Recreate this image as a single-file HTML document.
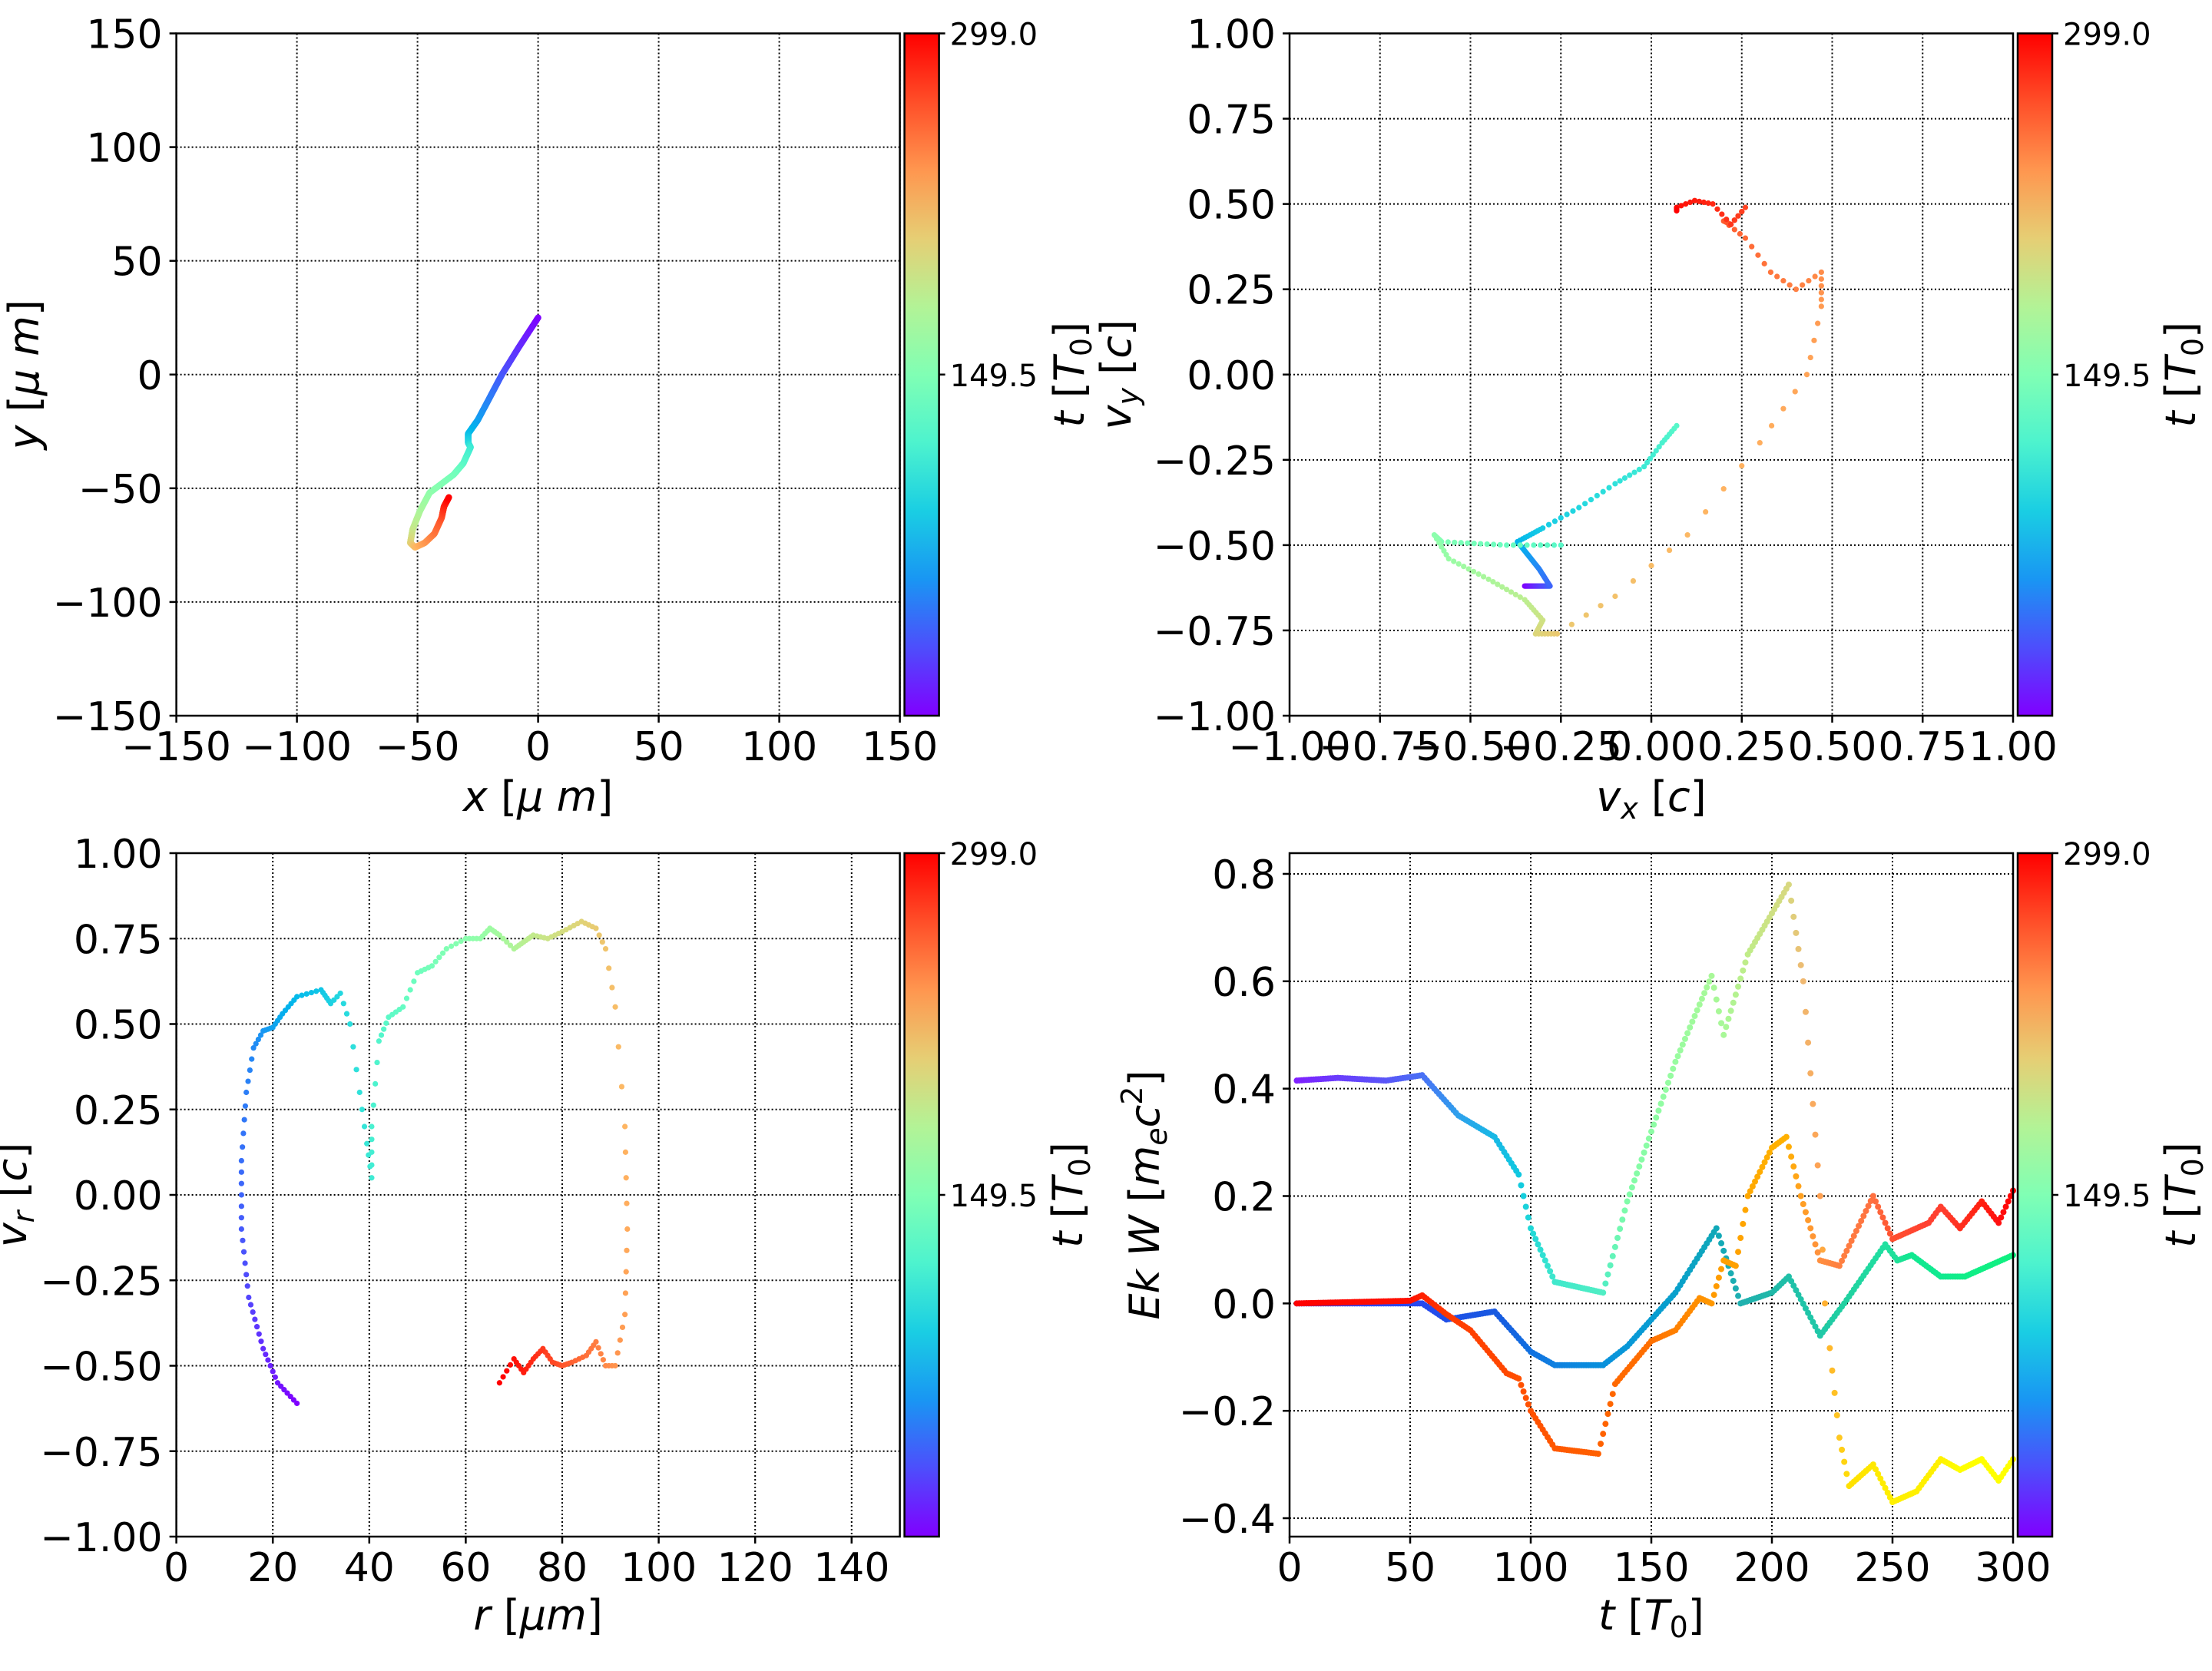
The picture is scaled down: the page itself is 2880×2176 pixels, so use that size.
<!DOCTYPE html>
<html><head><meta charset="utf-8">
<style>
html,body{margin:0;padding:0;background:#fff;}
svg{display:block;}
text{font-family:"DejaVu Sans","Liberation Sans",sans-serif;fill:#000;}
</style></head>
<body>
<svg id="s" xmlns="http://www.w3.org/2000/svg" width="2880" height="2176" viewBox="0 0 2880 2176">
<defs>
<linearGradient id="cmg" x1="0" y1="1" x2="0" y2="0">
<stop offset="0" stop-color="#8000ff"/><stop offset="0.1" stop-color="#4d4efc"/><stop offset="0.2" stop-color="#1996f3"/><stop offset="0.3" stop-color="#1acee3"/><stop offset="0.4" stop-color="#4df3ce"/><stop offset="0.5" stop-color="#80ffb4"/><stop offset="0.6" stop-color="#b3f396"/><stop offset="0.7" stop-color="#e6ce74"/><stop offset="0.8" stop-color="#ff964f"/><stop offset="0.9" stop-color="#ff4e28"/><stop offset="1" stop-color="#ff0000"/>
</linearGradient>
</defs>
<g id="g"></g>
</svg>
<script>
const NS="http://www.w3.org/2000/svg";
const G=document.getElementById('g');
function el(t,a,txt){const e=document.createElementNS(NS,t);for(const k in a)e.setAttribute(k,a[k]);if(txt!==undefined)e.innerHTML=txt;G.appendChild(e);return e;}
function cm(v){const r=Math.min(1,Math.abs(2*v-0.5)),g=Math.sin(Math.PI*v),b=Math.cos(Math.PI*v/2);return `rgb(${Math.round(r*255)},${Math.round(g*255)},${Math.round(b*255)})`;}
function mn(s){return s.replace('-','\u2212');}
function axes(o){
 const [X0,X1]=o.px,[Y0,Y1]=o.py,[a,b]=o.xl,[c,d]=o.yl;
 o.fx=x=>X0+(x-a)/(b-a)*(X1-X0); o.fy=y=>Y1-(y-c)/(d-c)*(Y1-Y0);
 for(const t of o.xt){const x=o.fx(t);el('line',{x1:x,y1:Y0,x2:x,y2:Y1,stroke:'#000','stroke-width':2,'stroke-dasharray':'2,3'});}
 for(const t of o.yt){const y=o.fy(t);el('line',{x1:X0,y1:y,x2:X1,y2:y,stroke:'#000','stroke-width':2,'stroke-dasharray':'2,3'});}
 return o;
}
function frame(o){
 const [X0,X1]=o.px,[Y0,Y1]=o.py;
 el('rect',{x:X0,y:Y0,width:X1-X0,height:Y1-Y0,fill:'none',stroke:'#000','stroke-width':2.5});
 for(const t of o.xt){const x=o.fx(t);el('line',{x1:x,y1:Y1,x2:x,y2:Y1+9,stroke:'#000','stroke-width':2.5});
  el('text',{x:x,y:Y1+58,'font-size':52,'text-anchor':'middle'},mn(o.xf(t)));}
 for(const t of o.yt){const y=o.fy(t);el('line',{x1:X0-9,y1:y,x2:X0,y2:y,stroke:'#000','stroke-width':2.5});
  el('text',{x:X0-18,y:y+19,'font-size':52,'text-anchor':'end'},mn(o.yf(t)));}
 const cx=X1+6,cw=45;
 el('rect',{x:cx,y:Y0,width:cw,height:Y1-Y0,fill:'url(#cmg)',stroke:'#000','stroke-width':2.5});
 el('line',{x1:cx+cw,y1:Y0,x2:cx+cw+8,y2:Y0,stroke:'#000','stroke-width':2.5});
 el('line',{x1:cx+cw,y1:(Y0+Y1)/2,x2:cx+cw+8,y2:(Y0+Y1)/2,stroke:'#000','stroke-width':2.5});
 el('text',{x:cx+cw+14,y:Y0+15,'font-size':40},'299.0');
 el('text',{x:cx+cw+14,y:(Y0+Y1)/2+15,'font-size':40},'149.5');
 const ym=(Y0+Y1)/2;
 el('text',{x:0,y:0,'font-size':54,'text-anchor':'middle',transform:`translate(${o.cbl},${ym}) rotate(-90)`},'<tspan font-style="italic">t</tspan> [<tspan font-style="italic">T</tspan><tspan font-size="38" dy="10">0</tspan><tspan dy="-10">]</tspan>');
 el('text',{x:(X0+X1)/2,y:o.xly,'font-size':54,'text-anchor':'middle'},o.xlab);
 el('text',{x:0,y:0,'font-size':54,'text-anchor':'middle',transform:`translate(${o.yll},${ym}) rotate(-90)`},o.ylab);
}
function interp(K,W){
 const pts=[];for(let i=0;i<K.length-1;i++){const n=W?(W[i]||6):6;for(let j=0;j<n;j++){const f=j/n;pts.push([K[i][0]+(K[i+1][0]-K[i][0])*f,K[i][1]+(K[i+1][1]-K[i][1])*f]);}}
 pts.push(K[K.length-1]);return pts;}
function scatter(o,pts,r){const N=pts.length;pts.forEach((p,i)=>{el('circle',{cx:o.fx(p[0]),cy:o.fy(p[1]),r:r,fill:cm(i/(N-1))});});}

const t150=[-150,-100,-50,0,50,100,150];
let A=axes({px:[229.6,1171.6],py:[43.5,932],xl:[-150,150],yl:[-150,150],xt:t150,yt:t150,xf:t=>String(t),yf:t=>String(t),cbl:1411,xly:1056,yll:50,
 xlab:'<tspan font-style="italic">x</tspan>  [<tspan font-style="italic">μ m</tspan>]',ylab:'<tspan font-style="italic">y</tspan>  [<tspan font-style="italic">μ m</tspan>]'});
{const K=[[0,25],[-8,12],[-15,0],[-20,-10],[-25,-20],[-29,-26],[-29,-30],[-28,-32],[-31,-39],[-35,-44],[-45,-52],[-49,-60],[-52,-68],[-53,-74],[-51,-76],[-47,-74],[-43,-70],[-40,-63],[-39,-58],[-37,-54]];
 const pts=interp(K,K.map(()=>30));scatter(A,pts,4.2);}
frame(A);

const tq=[-1,-0.75,-0.5,-0.25,0,0.25,0.5,0.75,1];
let B=axes({px:[1679,2621],py:[43.5,932],xl:[-1,1],yl:[-1,1],xt:tq,yt:tq,xf:t=>t.toFixed(2),yf:t=>t.toFixed(2),cbl:2858,xly:1056,yll:1472,
 xlab:'<tspan font-style="italic">v</tspan><tspan font-size="38" dy="10" font-style="italic">x</tspan><tspan dy="-10"> [</tspan><tspan font-style="italic">c</tspan>]',
 ylab:'<tspan font-style="italic">v</tspan><tspan font-size="38" dy="10" font-style="italic">y</tspan><tspan dy="-10"> [</tspan><tspan font-style="italic">c</tspan>]'});
{const K=[[-0.35,-0.62],[-0.28,-0.62],[-0.31,-0.57],[-0.34,-0.53],[-0.37,-0.49],[-0.3,-0.45],[-0.2,-0.39],[-0.1,-0.32],[-0.02,-0.27],[0.03,-0.2],[0.07,-0.15],
 [-0.25,-0.5],[-0.4,-0.5],[-0.58,-0.49],[-0.6,-0.47],[-0.56,-0.54],[-0.45,-0.6],[-0.35,-0.66],[-0.3,-0.72],[-0.32,-0.76],[-0.26,-0.76],
 [-0.1,-0.65],[0.1,-0.47],[0.3,-0.2],[0.43,0.0],[0.47,0.2],[0.47,0.3],[0.4,0.25],[0.33,0.3],[0.26,0.4],[0.2,0.45],[0.22,0.44],[0.26,0.49],[0.22,0.44],[0.17,0.5],[0.12,0.51],[0.07,0.49],[0.07,0.48]];
 const W=[30,10,10,10,10,6,6,6,6,6, 1, 8,10,6,6,8,8,8,7,7, 4,4,4,4,4,5,4,4,4,4,4,4,4,4,4,4,4];
 scatter(B,interp(K,W),3.6);}
frame(B);

let C=axes({px:[229.6,1171.6],py:[1111,2001],xl:[0,150],yl:[-1,1],xt:[0,20,40,60,80,100,120,140],yt:tq,xf:t=>String(t),yf:t=>t.toFixed(2),cbl:1409,xly:2122,yll:34,
 xlab:'<tspan font-style="italic">r</tspan> [<tspan font-style="italic">μm</tspan>]',
 ylab:'<tspan font-style="italic">v</tspan><tspan font-size="38" dy="10" font-style="italic">r</tspan><tspan dy="-10"> [</tspan><tspan font-style="italic">c</tspan>]'});
{const K=[[25,-0.61],[21,-0.55],[18,-0.45],[15,-0.3],[13.5,-0.1],[13.5,0.1],[14.5,0.3],[16,0.43],[18,0.48],[20,0.49],[22,0.53],[25,0.58],[30,0.6],[32,0.56],[34,0.59],[36,0.5],[38,0.3],[39.5,0.15],[40.5,0.05],
 [40.5,0.2],[42,0.45],[44,0.52],[47,0.55],[50,0.65],[53,0.67],[56,0.72],[60,0.75],[63,0.75],[65,0.78],[67,0.76],[70,0.72],[72,0.74],[74,0.76],[77,0.75],[80,0.77],[84,0.8],[87,0.78],[89,0.72],[91,0.55],[93,0.2],[93.5,-0.1],[93,-0.35],[91,-0.5],[89,-0.5],[87,-0.43],[85,-0.47],[82,-0.49],[80,-0.5],[78,-0.49],[76,-0.45],[74,-0.48],[72,-0.52],[70,-0.48],[67,-0.55]];
 const W=[6,6,7,6,6,5,4,4,4,4,5,5,5,3,3,3,3,3,4, 4,4,4,4,4,4,4,4,4,4,4,4,4,4,4,5,4,3,3,3,4,4,4,3,4,4,4,4,4,4,4,4,4,4];
 scatter(C,interp(K,W),3.6);}
frame(C);

let D=axes({px:[1679,2621],py:[1111,2001],xl:[0,300],yl:[-0.4-24/700,0.8+27/700],xt:[0,50,100,150,200,250,300],yt:[-0.4,-0.2,0,0.2,0.4,0.6,0.8],xf:t=>String(t),yf:t=>t.toFixed(1),cbl:2858,xly:2122,yll:1509,
 xlab:'<tspan font-style="italic">t</tspan> [<tspan font-style="italic">T</tspan><tspan font-size="38" dy="10">0</tspan><tspan dy="-10">]</tspan>',
 ylab:'<tspan font-style="italic">Ek W</tspan> [<tspan font-style="italic">m</tspan><tspan font-size="38" dy="10" font-style="italic">e</tspan><tspan dy="-10" font-style="italic">c</tspan><tspan font-size="38" dy="-22">2</tspan><tspan dy="22">]</tspan>'});
function hex(h){return [parseInt(h.substr(1,2),16),parseInt(h.substr(3,2),16),parseInt(h.substr(5,2),16)];}
function series(K){for(let t=3;t<=300;t+=1){let i=0;while(i<K.length-2&&K[i+1][0]<t)i++;const a=K[i],b=K[i+1];const f=Math.max(0,Math.min(1,(t-a[0])/(b[0]-a[0])));
 const y=a[1]+(b[1]-a[1])*f;const ca=hex(a[2]),cb=hex(b[2]);const c=ca.map((v,k)=>Math.round(v+(cb[k]-v)*f));
 el('circle',{cx:D.fx(t),cy:D.fy(y),r:4,fill:`rgb(${c})`});}}
series([[3,.415,'#7f1fff'],[20,.42,'#6a3cfc'],[40,.415,'#5a55f8'],[55,.425,'#4a70f5'],[70,.35,'#2ea0ec'],[85,.31,'#18b8e5'],[95,.24,'#10c8e0'],[100,.14,'#20d8d8'],[110,.04,'#40e8cc'],[130,.02,'#50eec4'],[140,.19,'#80fca8'],[160,.45,'#98fca0'],[175,.61,'#a8f898'],[180,.5,'#a8f898'],[190,.65,'#c0ec88'],[207,.78,'#d8d880'],[213,.6,'#f0b870'],[220,.2,'#ffa050'],[222,.0,'#ffb030'],[228,-.25,'#ffc820'],[232,-.34,'#ffe000'],[242,-.3,'#ffe800'],[250,-.37,'#fff000'],[260,-.35,'#fff000'],[270,-.29,'#fff000'],[278,-.31,'#ffff00'],[287,-.29,'#ffff00'],[294,-.33,'#ffff00'],[300,-.29,'#ffff00']]);
series([[3,0,'#3040f0'],[55,0,'#2848f0'],[65,-.03,'#2050e8'],[85,-.015,'#1858e0'],[100,-.09,'#1070e0'],[110,-.115,'#1080e0'],[130,-.115,'#0890dc'],[140,-.08,'#0898d8'],[160,.02,'#08a0cc'],[177,.14,'#10a8b8'],[187,0,'#20b0b0'],[200,.02,'#20b8a8'],[207,.05,'#20c0a8'],[220,-.06,'#20c8a8'],[230,0,'#20d0a0'],[247,.11,'#20e0a0'],[252,.08,'#20e098'],[258,.09,'#10e890'],[270,.05,'#10ea90'],[280,.05,'#10ee88'],[300,.09,'#10f080']]);
series([[3,0,'#ff0000'],[50,.005,'#ff1000'],[55,.015,'#ff2000'],[65,-.02,'#ff3800'],[75,-.05,'#ff4000'],[90,-.13,'#ff4800'],[95,-.14,'#ff5000'],[100,-.2,'#ff5000'],[110,-.27,'#ff5800'],[128,-.28,'#ff6000'],[135,-.15,'#ff6800'],[150,-.07,'#ff7000'],[160,-.05,'#ff8000'],[170,.01,'#ff9000'],[175,0,'#ff9800'],[180,.08,'#ffa000'],[185,.07,'#ffa000'],[190,.2,'#ffa800'],[200,.29,'#ffb000'],[206,.31,'#ffb000'],[212,.2,'#ffa020'],[220,.08,'#ff9040'],[228,.07,'#ff8040'],[242,.2,'#ff7040'],[250,.12,'#ff5030'],[265,.15,'#ff4030'],[270,.18,'#ff4030'],[278,.14,'#ff3020'],[287,.19,'#ff2010'],[294,.15,'#ff1010'],[300,.21,'#ff0000']]);
frame(D);
</script>
</body></html>
